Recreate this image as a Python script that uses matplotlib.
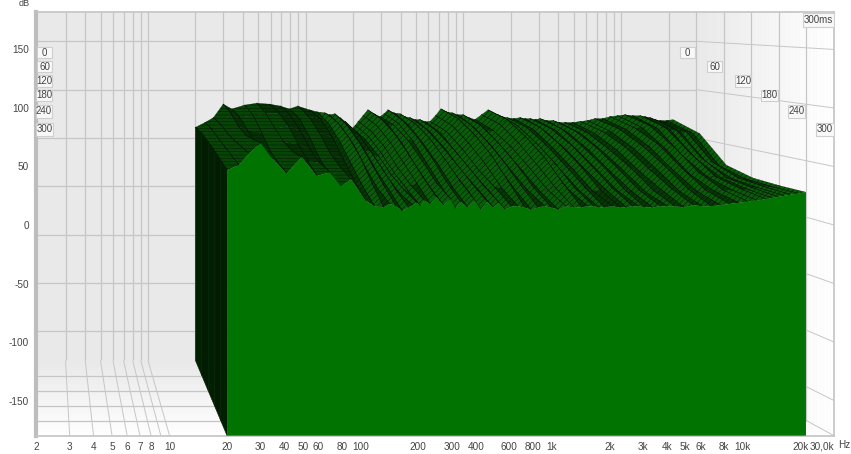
import numpy as np
import matplotlib
matplotlib.use("Agg")
import matplotlib.pyplot as plt
from matplotlib.patches import Polygon, Rectangle

plt.rcParams['font.family'] = ['Liberation Sans', 'DejaVu Sans']
plt.rcParams['hatch.linewidth'] = 0.35
plt.rcParams['axes.unicode_minus'] = False

# waterfall data, one list per time slice (dB)
freqs = [20, 23, 26, 30, 34, 41, 49, 59, 69, 79, 89,
         106, 118, 132, 142, 153, 165, 178, 187, 197, 206, 215, 231, 248, 271, 296, 314, 332, 363, 396, 426,
         458, 493, 530, 570, 614, 665, 721, 781, 847, 918, 994, 1085, 1185, 1304, 1434, 1541, 1656, 1769,
         1890, 2078, 2285, 2458, 2645, 2845, 3060, 3365, 3700, 4035, 4400, 4915, 5490, 6119, 6820, 7614,
         8500, 9488, 10590, 11823, 13200, 14188, 15250, 16406, 17650, 19435, 21400]
times = [0, 60, 120, 180, 240, 300]
slice_0 = [61, 66, 71, 85, 80, 84, 86, 85, 83, 80, 83,
           79, 77, 76, 74, 75, 71, 67, 62, 60, 63, 67, 73, 79, 75, 72, 75, 79, 76, 75, 72,
           71, 69, 69, 67, 67, 73, 80, 77, 76, 74, 74, 71, 69, 74, 79, 75, 74, 72,
           71, 70, 71, 70, 70, 69, 70, 68, 68, 66, 66, 66, 67, 68, 70, 70,
           72, 73, 74, 73, 73, 72, 71, 69, 68, 68, 69]
slice_60 = [60, 64, 69, 80, 76, 78, 80, 80, 78, 74, 77,
            74, 70, 72, 66, 68, 62, 60, 55, 54, 57, 62, 68, 74, 69, 68, 70, 73, 68, 70, 63,
            65, 61, 63, 60, 62, 68, 75, 68, 70, 65, 68, 62, 63, 69, 74, 66, 68, 63,
            66, 64, 66, 62, 65, 63, 65, 61, 63, 60, 61, 60, 62, 62, 65, 64,
            66, 66, 68, 65, 66, 63, 64, 61, 62, 60, 60]
slice_120 = [57, 60, 65, 72, 68, 66, 70, 72, 68, 60, 66,
             62, 57, 62, 54, 56, 49, 48, 43, 44, 46, 52, 57, 64, 56, 58, 58, 62, 55, 60, 51,
             54, 49, 52, 46, 50, 56, 64, 55, 58, 52, 56, 49, 52, 56, 62, 52, 56, 50,
             54, 51, 54, 50, 54, 50, 53, 49, 52, 48, 50, 49, 52, 51, 54, 52,
             55, 50, 52, 44, 46, 41, 42, 37, 38, 34, 35]
slice_180 = [54, 57, 63, 68, 62, 54, 62, 60, 55, 45, 52,
             46, 41, 48, 38, 42, 34, 36, 30, 32, 33, 38, 43, 50, 40, 44, 42, 48, 41, 46, 37,
             42, 35, 40, 33, 36, 42, 50, 40, 44, 37, 42, 35, 38, 41, 48, 38, 42, 36,
             40, 37, 40, 36, 40, 36, 40, 35, 38, 35, 38, 35, 38, 37, 40, 36,
             38, 32, 34, 30, 30, 29, 29, 28, 29, 28, 29]
slice_240 = [50, 54, 62, 69, 59, 48, 58, 50, 48, 36, 44,
             32, 27, 30, 25, 28, 23, 24, 21, 24, 24, 28, 30, 36, 27, 30, 27, 32, 26, 32, 26,
             30, 25, 28, 23, 26, 26, 32, 25, 28, 24, 26, 22, 24, 26, 30, 24, 26, 23,
             26, 23, 24, 24, 26, 23, 25, 23, 24, 22, 24, 24, 26, 23, 25, 23,
             24, 23, 24, 24, 25, 25, 26, 26, 27, 27, 28]
slice_300 = [47, 51, 61, 70, 58, 44, 58, 42, 45, 33, 39,
             21, 16, 15, 18, 16, 12, 15, 17, 19, 16, 21, 18, 24, 17, 22, 14, 20, 15, 21, 13,
             20, 15, 19, 13, 16, 16, 15, 13, 15, 16, 15, 13, 16, 15, 15, 16, 16, 15,
             15, 16, 15, 15, 16, 16, 15, 15, 16, 16, 16, 15, 17, 16, 16, 17,
             18, 19, 20, 21, 22, 23, 24, 25, 26, 27, 28]
slices = [slice_0, slice_60, slice_120, slice_180, slice_240, slice_300]

x_ticks = [2, 3, 4, 5, 6, 7, 8, 10, 20, 30, 40, 50, 60, 80, 100, 200, 300, 400, 600, 800, 1000,
           2000, 3000, 4000, 5000, 6000, 8000, 10000, 20000, 30000]
x_labels = ['2', '3', '4', '5', '6', '7', '8', '10', '20', '30', '40', '50', '60', '80', '100', '200', '300',
            '400', '600', '800', '1k', '2k', '3k', '4k', '5k', '6k', '8k', '10k', '20k', '30,0k']
grid_freqs = [3, 4, 5, 6, 7, 8, 9, 10, 20, 30, 40, 50, 60, 70, 80, 90, 100, 200, 300, 400, 500, 600, 700, 800,
              900, 1000, 2000, 3000, 4000, 5000, 6000, 7000, 8000, 9000, 10000, 20000, 30000]
y_ticks = [150, 100, 50, 0, -50, -100, -150]

FLOOR = -180
GRID = '#c6c6c6'
TEXT = '#444444'


def project(f, ms, db):
    # back wall (0 ms) and front plane (300 ms) have their own pixel scales
    s = ms / 300.0
    lf = np.log10(f)
    px = (1 - s) * (148 + 157.7 * (lf - 1)) + s * (36 + 191.1 * (lf - np.log10(2)))
    py = (1 - s) * (186.4 - 0.967 * db) + s * (225 - 1.17 * db)
    return 2 * 10 ** ((px - 36) / 191.1), (225 - py) / 1.17


def line3d(ax, a, b, **kw):
    p = project(*a)
    q = project(*b)
    ax.plot([p[0], q[0]], [p[1], q[1]], color=GRID, solid_capstyle='butt', **kw)


def draw_walls(ax):
    steps = np.linspace(0, 300, 41)
    for m0, m1 in zip(steps[:-1], steps[1:]):
        grey = 0.913 + (1 - 0.913) * m1 / 300
        floor = [project(1.5, m0, FLOOR), project(30000, m0, FLOOR), project(30000, m1, FLOOR), project(1.5, m1, FLOOR)]
        side = [project(30000, m0, FLOOR), project(30000, m1, FLOOR), project(30000, m1, 200), project(30000, m0, 200)]
        ax.add_patch(Polygon(floor, facecolor=(grey, grey, grey), edgecolor=(grey, grey, grey), lw=0.3, zorder=1))
        ax.add_patch(Polygon(side, facecolor=(grey, grey, grey), edgecolor=(grey, grey, grey), lw=0.3, zorder=1))

    for f in grid_freqs:
        line3d(ax, (f, 0, FLOOR), (f, 0, 200), lw=0.9, zorder=2)
        line3d(ax, (f, 0, FLOOR), (f, 300, FLOOR), lw=0.7, zorder=2)
    for db in y_ticks:
        line3d(ax, (1.5, 0, db), (30000, 0, db), lw=0.9, zorder=2)
        line3d(ax, (30000, 0, db), (30000, 300, db), lw=0.7, zorder=2)
    for ms in times[1:]:
        line3d(ax, (1.5, ms, FLOOR), (30000, ms, FLOOR), lw=0.9, zorder=2)
        line3d(ax, (30000, ms, FLOOR), (30000, ms, 200), lw=0.9, zorder=2)


def draw_surface(ax):
    # back to front, high to low frequency, so nearer faces cover the far ones
    order = 3
    for i in range(len(times) - 1):
        for j in range(len(freqs) - 2, -1, -1):
            quad = [project(freqs[j], times[i], slices[i][j]),
                    project(freqs[j + 1], times[i], slices[i][j + 1]),
                    project(freqs[j + 1], times[i + 1], slices[i + 1][j + 1]),
                    project(freqs[j], times[i + 1], slices[i + 1][j])]
            rise = slices[i][j + 1] + slices[i + 1][j + 1] - slices[i][j] - slices[i + 1][j]
            shade = '#0a5c0a' if rise > 0 else '#053805'
            hatch = '//////'
            if freqs[j] < 100:
                shade = '#053205' if rise < 0 else '#074507'
                hatch = '-----'
            ax.add_patch(Polygon(quad, facecolor=shade, edgecolor='#021402', hatch=hatch, lw=0.2, zorder=order))
            ax.plot([quad[0][0], quad[3][0]], [quad[0][1], quad[3][1]], color='#010f01', lw=0.7,
                    solid_capstyle='round', zorder=order + 0.0005)
            order += 0.001

    # dark low frequency wall
    for i in range(len(times) - 1):
        wall = [project(freqs[0], times[i], FLOOR), project(freqs[0], times[i + 1], FLOOR),
                project(freqs[0], times[i + 1], slices[i + 1][0]), project(freqs[0], times[i], slices[i][0])]
        ax.add_patch(Polygon(wall, facecolor='#011c01' if i % 2 else '#012001', edgecolor='#011c01', lw=0.4, zorder=order))

    front = [project(freqs[0], 300, FLOOR)]
    front += [project(f, 300, v) for f, v in zip(freqs, slice_300)]
    front.append(project(freqs[-1], 300, FLOOR))
    ax.add_patch(Polygon(front, facecolor='#007300', edgecolor='none', zorder=order + 1))


def box_label(fig, x0, y0, x1, y1, text):
    w, h = fig.get_size_inches() * fig.dpi
    fig.add_artist(Rectangle((x0 / w, 1 - y1 / h), (x1 - x0) / w, (y1 - y0) / h, transform=fig.transFigure,
                             facecolor='#f8f8f8', edgecolor='#cfcfcf', lw=0.8, zorder=10))
    fig.text(((x0 + x1) / 2) / w, 1 - ((y0 + y1) / 2) / h, text, fontsize=7, color=TEXT,
             ha='center', va='center', zorder=11)


def main():
    fig = plt.figure(figsize=(8.51, 4.54), dpi=100)
    ax = fig.add_axes([36 / 851, 18 / 454, 798 / 851, 424 / 454])
    ax.set_facecolor('#e9e9e9')
    ax.set_xscale('log')
    ax.set_xlim(2, 30000)
    ax.set_ylim(-180.3, 182)

    draw_walls(ax)
    draw_surface(ax)

    ax.set_xticks(x_ticks)
    ax.set_xticklabels(x_labels)
    ax.minorticks_off()
    ax.set_yticks(y_ticks)
    ax.tick_params(length=0, labelsize=7.2, colors=TEXT)
    ax.tick_params(axis='x', pad=4)
    ax.tick_params(axis='y', pad=5)
    ax.get_xticklabels()[-1].set_ha('right')
    for side in ['top', 'right', 'bottom']:
        ax.spines[side].set_color('#c4c4c4')
        ax.spines[side].set_linewidth(1.2)
    ax.spines['left'].set_color('#bdbdbd')
    ax.spines['left'].set_linewidth(3)

    w, h = 851, 454
    fig.text(24 / w, 1 - 4 / h, 'dB', fontsize=6.5, color=TEXT, ha='center', va='center')
    fig.text(844 / w, 1 - 445 / h, 'Hz', fontsize=7.2, color=TEXT, ha='center', va='center')

    box_label(fig, 803, 13, 834, 27, '300ms')
    time_names = ['0', '60', '120', '180', '240', '300']
    left_boxes = [(37, 47, 52, 58), (37, 61, 52, 72), (37, 75, 52, 87), (36, 90, 52, 101), (36, 105, 52, 118), (36, 123, 53, 136)]
    right_boxes = [(680, 47, 695, 58), (707, 61, 722, 72), (735, 75, 751, 87), (761, 90, 778, 101), (788, 105, 805, 118), (816, 123, 834, 136)]
    for name, b in zip(time_names, left_boxes):
        box_label(fig, *b, name)
    for name, b in zip(time_names, right_boxes):
        box_label(fig, *b, name)

    fig.savefig('out.png', dpi=100)


if __name__ == "__main__":
    main()
